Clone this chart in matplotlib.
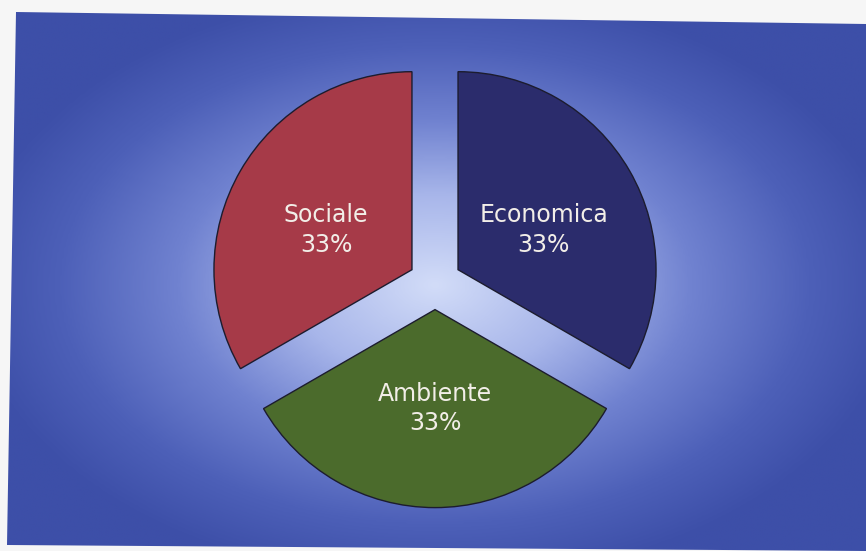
import numpy as np
import matplotlib.pyplot as plt
from matplotlib.colors import LinearSegmentedColormap
from matplotlib.patches import Polygon

# --- data ---
labels = ['Sociale', 'Ambiente', 'Economica']
values = [33, 33, 33]
colors = ['#a63a48', '#4b6b2c', '#2b2c6c']

W, H = 866, 551
fig = plt.figure(figsize=(W / 100, H / 100), dpi=100)
fig.patch.set_facecolor('#f6f6f6')
ax = fig.add_axes([0, 0, 1, 1])

# sfondo blu con alone chiaro al centro (scansione leggermente inclinata)
cx, cy = 435, H - 285
x0, x1, y0, y1 = 0, W, 0, H
xx, yy = np.meshgrid(np.linspace(x0, x1, 400), np.linspace(y0, y1, 260))
d = np.sqrt(((xx - cx) / 470) ** 2 + ((yy - cy) / 300) ** 2)
bg_cmap = LinearSegmentedColormap.from_list(
    'bg', [(0, '#d2dcf8'), (0.3, '#a8b6ea'), (0.55, '#7082d0'),
           (0.8, '#4d60b8'), (1, '#3d4fa8')])
img = ax.imshow(np.clip(d, 0, 1), cmap=bg_cmap, vmin=0, vmax=1, origin='lower',
                extent=(x0, x1, y0, y1), interpolation='bilinear', zorder=0)
frame_poly = Polygon([(16, 539), (W, 527), (W, 0), (7, 6)], closed=True,
                     transform=ax.transData, facecolor='none', edgecolor='none')
ax.add_patch(frame_poly)
img.set_clip_path(frame_poly)

wedges, _ = ax.pie(
    values,
    colors=colors,
    startangle=90,
    counterclock=True,
    radius=198,
    center=(435, H - 283),
    explode=[26.6] * 3,
    wedgeprops=dict(edgecolor='#1c1c2e', linewidth=1.0),
    frame=True,
)
ax.set_xlim(0, W)
ax.set_ylim(0, H)
ax.set_aspect('equal')
ax.axis('off')

for w, lab, v in zip(wedges, labels, values):
    ang = np.deg2rad((w.theta1 + w.theta2) / 2)
    tx = w.center[0] + 0.5 * w.r * np.cos(ang)
    ty = w.center[1] + 0.5 * w.r * np.sin(ang)
    if np.sin(ang) > 0:
        ty -= 0.05 * w.r  # etichette superiori un po' più in basso
    ax.text(tx, ty, f'{lab}\n{v}%', ha='center', va='center',
            color='#f2eee8', fontsize=17, linespacing=1.3,
            family='DejaVu Sans', zorder=5)

plt.savefig('out.png', dpi=100, facecolor=fig.get_facecolor())
